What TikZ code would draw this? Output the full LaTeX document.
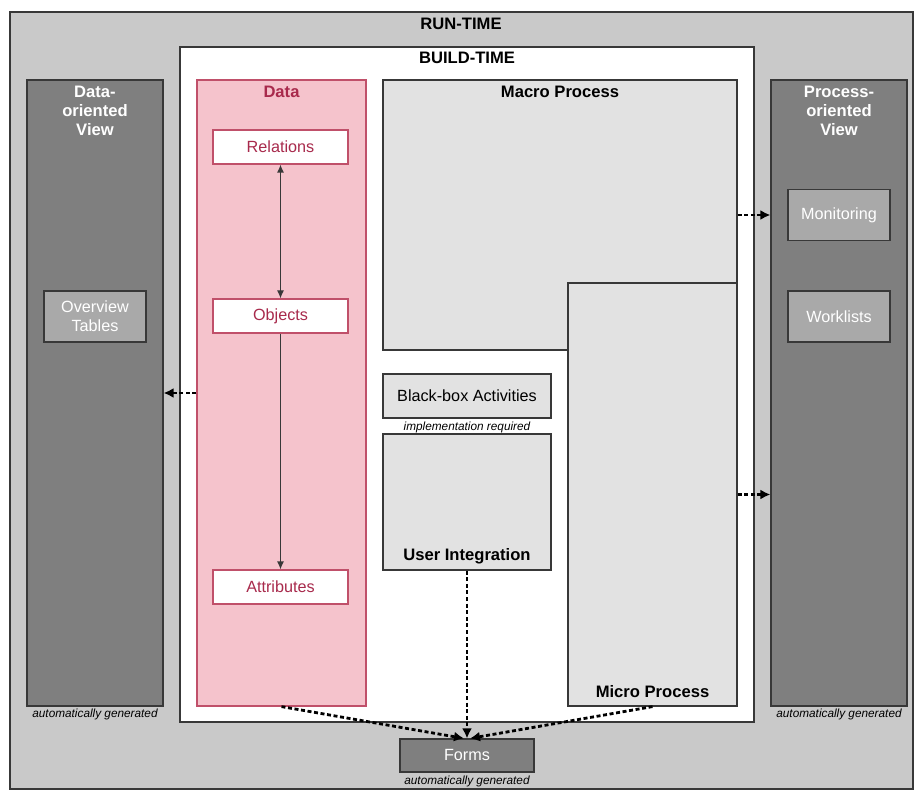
\documentclass[tikz,border=0pt]{standalone}
\usepackage{fontspec}
\setmainfont{Liberation Sans}
\usetikzlibrary{positioning,arrows.meta}

\definecolor{rungray}{HTML}{C9C9C9}
\definecolor{viewgray}{HTML}{7F7F7F}
\definecolor{subgray}{HTML}{A9A9A9}
\definecolor{procgray}{HTML}{E2E2E2}
\definecolor{datapink}{HTML}{F5C3CC}
\definecolor{dataline}{HTML}{C0506A}
\definecolor{datatext}{HTML}{A82A4C}
\definecolor{edgegray}{HTML}{383838}

\tikzset{
  area/.style={draw=edgegray, line width=0.6pt, inner sep=0pt},
  title/.style={font=\fontsize{8.3}{9.5}\selectfont\bfseries, align=center},
  plain/.style={font=\fontsize{8.1}{9.5}\selectfont, align=center},
  remark/.style={font=\fontsize{5.9}{7}\selectfont\itshape},
  databox/.style={area, draw=dataline, fill=white, text=datatext, plain,
    minimum width=67.5pt, minimum height=17pt},
  viewbox/.style={area, fill=subgray, text=white, plain,
    minimum width=51pt, minimum height=25.5pt},
  flow/.style={-{Latex[length=5pt,width=5pt]}, line width=1.4pt,
    dash pattern=on 2pt off 1.3pt},
  link/.style={line width=0.6pt, edgegray}
}

\begin{document}
\begin{tikzpicture}[x=0.5pt,y=-0.5pt]
\useasboundingbox (0,0) rectangle (914,790);

% containers
\node[area, fill=rungray, minimum width=451.5pt, minimum height=388.5pt] (run) at (461.5,400.5) {};
\node[title] (runlabel) at (461,24) {RUN-TIME};
\node[area, fill=white, minimum width=287pt, minimum height=337.5pt] (build) at (467,384.5) {};
\node[title] (buildlabel) at (467,58) {BUILD-TIME};

% data part
\node[area, draw=dataline, fill=datapink, minimum width=84.5pt, minimum height=313pt] (data) at (281.5,393) {};
\node[title, text=datatext] (datalabel) at (281.5,92) {Data};
\node[databox] (relations) at (280.5,147) {Relations};
\node[databox] (objects) at (280.5,316) {Objects};
\node[databox] (attributes) at (280.5,587) {Attributes};

% views
\node[area, fill=viewgray, minimum width=68pt, minimum height=313pt] (dview) at (95,393) {};
\node[title, text=white] (dviewlabel) at (95,111) {Data-\\oriented\\View};
\node[viewbox] (overview) at (95,316.5) {Overview\\Tables};
\node[remark] (dauto) at (95,714) {automatically generated};

\node[area, fill=viewgray, minimum width=68pt, minimum height=313pt] (pview) at (839,393) {};
\node[title, text=white] (pviewlabel) at (839,111) {Process-\\oriented\\View};
\node[viewbox] (monitoring) at (839,215) {Monitoring};
\node[viewbox] (worklists) at (839,316.5) {Worklists};
\node[remark] (pauto) at (839,714) {automatically generated};

% processes
\node[area, fill=procgray, minimum width=177pt, minimum height=135pt] (macro) at (560,215) {};
\node[title] (macrolabel) at (560,92) {Macro Process};
\node[area, fill=procgray, minimum width=84.5pt, minimum height=211.5pt] (micro) at (652.5,494.5) {};
\node[title] (microlabel) at (652.5,692) {Micro Process};

\node[area, fill=procgray, plain, minimum width=84pt, minimum height=22pt] (blackbox) at (467,396) {Black-box Activities};
\node[remark] (impl) at (467,427) {implementation required};
\node[area, fill=procgray, minimum width=84pt, minimum height=68pt] (userint) at (467,502) {};
\node[title] (userlabel) at (467,556) {User Integration};

\node[area, fill=viewgray, text=white, plain, minimum width=67pt, minimum height=16.5pt] (forms) at (467,755.5) {Forms};
\node[remark] (fauto) at (467,781) {automatically generated};

% connectors
\draw[link, {Latex[length=4pt,width=3.5pt]}-{Latex[length=4pt,width=3.5pt]}] (relations) -- (objects);
\draw[link, -{Latex[length=4pt,width=3.5pt]}] (objects) -- (attributes);

\draw[flow] (data.west) -- (dview.east);
\draw[flow] (macro.east) -- (macro.east -| pview.west);
\draw[flow] (micro.east) -- (micro.east -| pview.west);
\draw[flow] (userint.south) -- (forms.north);
\draw[flow] (data.south) -- ([xshift=-1.5pt]forms.north);
\draw[flow] (micro.south) -- ([xshift=1.5pt]forms.north);
\end{tikzpicture}
\end{document}
